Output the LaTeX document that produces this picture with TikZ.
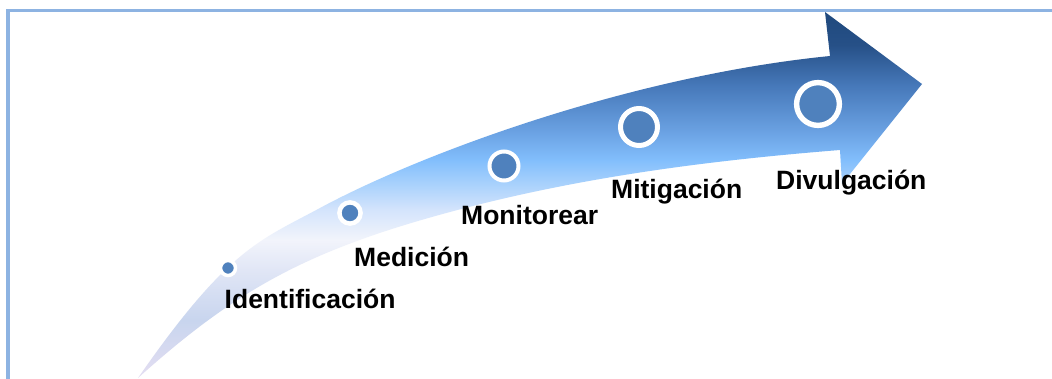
\documentclass[tikz,border=0pt]{standalone}
\usepackage{fontspec}
\setmainfont{Liberation Sans}
\definecolor{bordercol}{RGB}{141,179,226}
\definecolor{dotblue}{RGB}{79,129,189}
\definecolor{ca}{RGB}{228,222,242}
\definecolor{cb}{RGB}{200,213,238}
\definecolor{cc}{RGB}{225,230,246}
\definecolor{cd}{RGB}{242,244,251}
\definecolor{ce}{RGB}{212,228,252}
\definecolor{cf}{RGB}{170,210,252}
\definecolor{cg}{RGB}{130,190,252}
\definecolor{ch}{RGB}{105,160,225}
\definecolor{ci}{RGB}{70,120,185}
\definecolor{cj}{RGB}{38,80,135}
\definecolor{ck}{RGB}{31,73,125}
\pgfdeclareverticalshading{arrowshade}{100bp}{color(0bp)=(ca); color(25bp)=(ca); color(32.9bp)=(cb); color(39.8bp)=(cc); color(43.9bp)=(cd); color(48bp)=(ce); color(51.4bp)=(cf); color(54.8bp)=(cg); color(58.9bp)=(ch); color(65bp)=(ci); color(70.5bp)=(cj); color(75bp)=(ck); color(100bp)=(ck)}
\tikzset{
  dotmark/.style={circle, fill=dotblue, draw=white, inner sep=0pt},
  steplabel/.style={anchor=base west, inner sep=0pt, font=\fontsize{26.5}{30}\selectfont\bfseries, text=black},
  framebar/.style={draw=bordercol, line width=3.5pt}
}
\begin{document}
\begin{tikzpicture}[x=1pt,y=-1pt]
\useasboundingbox (0,0) rectangle (1052,379);
\fill[white] (0,0) rectangle (1052,379);
% arrow
\shade[shading=arrowshade]
  (138,378) .. controls (228,248.4) and (260,240.4) .. (320,208)
  .. controls (420,154) and (630,76) .. (830,56)
  -- (825,12) -- (922,84) -- (842,184) -- (840,150)
  .. controls (710,160.4) and (580,176.9) .. (450,212)
  .. controls (310,249.8) and (238,288) .. (138,378)
  -- cycle;
% frame
\coordinate (fa) at (8,379);
\coordinate (fb) at (8,10.5);
\coordinate (fc) at (1052,10.5);
\draw[framebar] (fa) -- (fb) -- (fc);
% dots
\node[dotmark, minimum size=15pt, line width=3.5pt] (d1) at (228,268) {};
\node[dotmark, minimum size=21.2pt, line width=4.5pt] (d2) at (350,213) {};
\node[dotmark, minimum size=29pt, line width=4pt] (d3) at (504,166) {};
\node[dotmark, minimum size=37pt, line width=5pt] (d4) at (639,127) {};
\node[dotmark, minimum size=42.8pt, line width=5.4pt] (d5) at (818,104) {};
% labels
\node[steplabel] (t1) at (224.5,308.3) {Identificación};
\node[steplabel] (t2) at (354,266.7) {Medición};
\node[steplabel] (t3) at (461,225) {Monitorear};
\node[steplabel] (t4) at (611,198.3) {Mitigación};
\node[steplabel] (t5) at (776,189.3) {Divulgación};
\end{tikzpicture}
\end{document}
